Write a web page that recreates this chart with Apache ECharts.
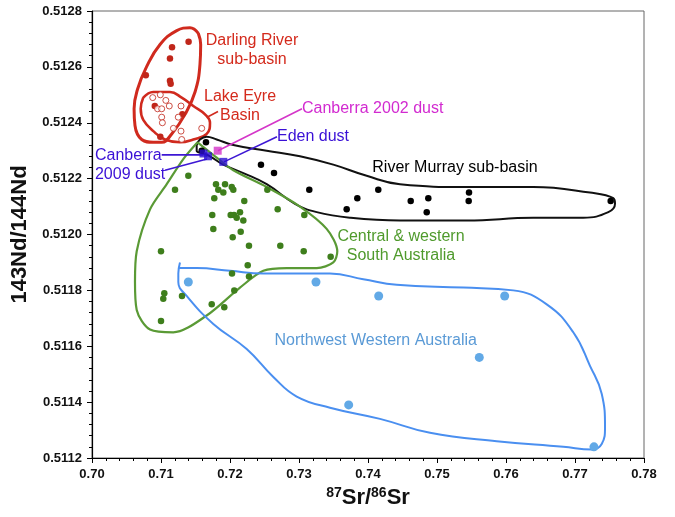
<!DOCTYPE html>
<html><head><meta charset="utf-8">
<script src="https://cdn.jsdelivr.net/npm/echarts@6/dist/echarts.min.js"></script>
<style>html,body{margin:0;padding:0;background:#fff}#c{width:675px;height:517px}</style>
</head><body><div id="c"></div>
<script>
// ---- axis ranges ----
const xRange = [0.70, 0.78, 0.01];
const yRange = [0.5112, 0.5128, 0.0002];

// ---- data points [87Sr/86Sr, 143Nd/144Nd] ----
const darlingPts = [[0.7140,0.51269],[0.7116,0.51267],[0.7113,0.51263],[0.7078,0.51257],[0.7113,0.51255],[0.7114,0.51254],[0.7091,0.51246],[0.7131,0.51243],[0.7099,0.51235]];
const lakeEyrePts = [[0.7088,0.51249],[0.7099,0.51250],[0.7107,0.51248],[0.7112,0.51246],[0.7095,0.51245],[0.7101,0.51245],[0.7101,0.51242],[0.7102,0.51240],[0.7129,0.51246],[0.7125,0.51242],[0.7118,0.51238],[0.7129,0.51237],[0.7130,0.51234],[0.7159,0.51238]];
const murrayPts = [[0.71652,0.51233],[0.71590,0.51230],[0.72449,0.51225],[0.72638,0.51222],[0.73149,0.51216],[0.73691,0.51209],[0.73845,0.51213],[0.74149,0.51216],[0.74619,0.51212],[0.74874,0.51213],[0.74851,0.51208],[0.75464,0.51215],[0.75459,0.51212],[0.77517,0.51212]];
const centralPts = [[0.71396,0.51221],[0.71203,0.51216],[0.71797,0.51218],[0.71928,0.51218],[0.72025,0.51217],[0.71830,0.51216],[0.71903,0.51215],[0.72048,0.51216],[0.72541,0.51216],[0.71772,0.51213],[0.72207,0.51212],[0.72691,0.51209],[0.73077,0.51207],[0.71743,0.51207],[0.72010,0.51207],[0.72058,0.51207],[0.72145,0.51208],[0.72097,0.51206],[0.72193,0.51205],[0.71758,0.51202],[0.72155,0.51201],[0.72039,0.51199],[0.71000,0.51194],[0.72275,0.51196],[0.72729,0.51196],[0.73068,0.51194],[0.73459,0.51192],[0.72257,0.51189],[0.72029,0.51186],[0.72275,0.51185],[0.71048,0.51179],[0.71033,0.51177],[0.71304,0.51178],[0.72062,0.51180],[0.71735,0.51175],[0.71917,0.51174],[0.71000,0.51169]];
const nwwaPts = [[0.71396,0.51183],[0.73246,0.51183],[0.74155,0.51178],[0.75981,0.51178],[0.75613,0.51156],[0.73720,0.51139],[0.77275,0.51124]];
const canberra2002 = [[0.71822,0.51230]];
const edenDust = [[0.71903,0.51226]];
const canberra2009 = [[0.71616,0.51229],[0.71681,0.51228]];

// ---- hand-drawn field outlines ----
const darlingOutline = [[0.71541,0.51272],[0.71420,0.51274],[0.71228,0.51273],[0.70986,0.51268],[0.70790,0.51260],[0.70660,0.51252],[0.70610,0.51245],[0.70623,0.51239],[0.70720,0.51234],[0.70888,0.51233],[0.71010,0.51233],[0.71155,0.51236],[0.71348,0.51243],[0.71493,0.51251],[0.71565,0.51261],[0.71575,0.51268],[0.71541,0.51272]];
const lakeEyreOutline = [[0.70743,0.51249],[0.70706,0.51245],[0.70743,0.51241],[0.70888,0.51237],[0.71058,0.51234],[0.71275,0.51233],[0.71468,0.51234],[0.71662,0.51236],[0.71710,0.51240],[0.71638,0.51243],[0.71468,0.51246],[0.71300,0.51249],[0.71130,0.51251],[0.70888,0.51251],[0.70743,0.51249]];
const murrayOutline = [[0.71517,0.51232],[0.71565,0.51234],[0.71662,0.51235],[0.71807,0.51234],[0.72048,0.51232],[0.72532,0.51230],[0.73014,0.51228],[0.73497,0.51225],[0.73981,0.51221],[0.74464,0.51218],[0.75430,0.51217],[0.76396,0.51217],[0.77217,0.51215],[0.77555,0.51213],[0.77580,0.51211],[0.77483,0.51208],[0.77120,0.51206],[0.76396,0.51206],[0.75430,0.51205],[0.74464,0.51205],[0.73739,0.51206],[0.73257,0.51208],[0.72942,0.51211],[0.72532,0.51218],[0.72193,0.51222],[0.71903,0.51225],[0.71710,0.51228],[0.71613,0.51229],[0.71517,0.51230],[0.71517,0.51232]];
const centralOutline = [[0.71530,0.51233],[0.71783,0.51228],[0.72048,0.51223],[0.72532,0.51217],[0.73014,0.51210],[0.73401,0.51202],[0.73555,0.51194],[0.73497,0.51190],[0.73257,0.51188],[0.72822,0.51188],[0.72483,0.51187],[0.72145,0.51181],[0.71662,0.51171],[0.71178,0.51165],[0.70841,0.51166],[0.70648,0.51173],[0.70623,0.51183],[0.70648,0.51194],[0.70841,0.51209],[0.71083,0.51218],[0.71323,0.51227],[0.71530,0.51233]];
const nwwaOutline = [[0.71265,0.51188],[0.71517,0.51188],[0.72000,0.51187],[0.72483,0.51186],[0.73449,0.51186],[0.73932,0.51184],[0.74416,0.51182],[0.75381,0.51181],[0.76106,0.51180],[0.76590,0.51175],[0.76975,0.51165],[0.77217,0.51153],[0.77387,0.51143],[0.77435,0.51131],[0.77387,0.51125],[0.77242,0.51123],[0.76830,0.51124],[0.75865,0.51126],[0.74899,0.51129],[0.74174,0.51134],[0.73449,0.51138],[0.72967,0.51142],[0.72628,0.51149],[0.72242,0.51159],[0.71758,0.51168],[0.71372,0.51178],[0.71251,0.51183],[0.71251,0.51186],[0.71275,0.51190]];

// ---- leader lines ----
const c2002Leader = [[0.71826,0.51230],[0.73043,0.51245]];
const edenLeader = [[0.71913,0.51226],[0.72681,0.51235]];
const c2009LeaderA = [[0.71010,0.512285],[0.71616,0.512285]];
const c2009LeaderB = [[0.71058,0.51223],[0.71667,0.51227]];
const lakeEyreLeader = [[0.71667,0.51242],[0.71826,0.51244]];

// ---- text labels ----
const labelTexts = ['Darling River\nsub-basin','Lake Eyre\nBasin','Canberra 2002 dust','Eden dust','Canberra\n2009 dust','River Murray sub-basin','Central & western\nSouth Australia','Northwest Western Australia'];
const labelPos = [[0.72319,0.51266],[0.72145,0.51246],[0.73043,0.51245],[0.72681,0.51235],[0.70043,0.51225],[0.75261,0.51224],[0.74478,0.51196],[0.74112,0.51162]];
const labelColors = ['#d42a1c','#d42a1c','#d22ad0','#3a10d6','#3a10d6','#000000','#4f9a2c','#5a9ad6'];
const labelAligns = ['center','center','left','left','left','center','center','center'];

const FONT = '"Liberation Sans", Arial, Helvetica, sans-serif';

function outline(data, color, width, smooth) {
  return {type:'line', data, smooth: smooth === undefined ? 0.45 : smooth, symbol:'none', silent:true, z:2,
    lineStyle:{color, width}, animation:false};
}
function leader(data, color) {
  return {type:'line', data, smooth:false, symbol:'none', silent:true, z:3, lineStyle:{color, width:1.6}, animation:false};
}
function dots(data, color, size, extra) {
  return Object.assign({type:'scatter', data, symbol:'circle', symbolSize:size, z:5, silent:true, animation:false,
    itemStyle:{color, opacity:1}}, extra || {});
}

const labelData = labelTexts.map((t, i) => ({
  value: labelPos[i],
  label: {formatter: t, color: labelColors[i], align: labelAligns[i]}
}));

const option = {
  backgroundColor:'#fff',
  animation:false,
  grid:{left:92, right:31, top:11, bottom:59, show:true, borderColor:'#666', borderWidth:1, outerBoundsMode:'none'},
  xAxis:{
    type:'value', min:xRange[0], max:xRange[1], interval:xRange[2],
    name:'{s|87}{b|Sr/}{s|86}{b|Sr}', nameLocation:'middle', nameGap:28,
    nameTextStyle:{rich:{
      b:{fontSize:22, fontWeight:'bold', fontFamily:FONT, color:'#111', lineHeight:24},
      s:{fontSize:14, fontWeight:'bold', fontFamily:FONT, color:'#111', lineHeight:14, verticalAlign:'top'}
    }},
    axisLine:{show:true, onZero:false, lineStyle:{color:'#000', width:1.2}},
    axisTick:{show:true, length:5, lineStyle:{color:'#000'}},
    minorTick:{show:true, splitNumber:5, length:3, lineStyle:{color:'#000'}},
    splitLine:{show:false}, minorSplitLine:{show:false},
    axisLabel:{formatter:v => v.toFixed(2), fontSize:13, fontWeight:'bold', fontFamily:FONT, color:'#111', margin:10}
  },
  yAxis:{
    type:'value', min:yRange[0], max:yRange[1], interval:yRange[2],
    name:'143Nd/144Nd', nameLocation:'middle', nameGap:58, nameRotate:90,
    nameTextStyle:{fontSize:22, fontWeight:'bold', fontFamily:FONT, color:'#111'},
    axisLine:{show:true, onZero:false, lineStyle:{color:'#000', width:1.2}},
    axisTick:{show:true, length:5, lineStyle:{color:'#000'}},
    minorTick:{show:true, splitNumber:5, length:3, lineStyle:{color:'#000'}},
    splitLine:{show:false}, minorSplitLine:{show:false},
    axisLabel:{formatter:v => v.toFixed(4), fontSize:13, fontWeight:'bold', fontFamily:FONT, color:'#111', margin:10}
  },
  series:[
    outline(darlingOutline, '#d02a1e', 3),
    outline(lakeEyreOutline, '#d02a1e', 2.6),
    leader(lakeEyreLeader, '#d02a1e'),
    outline(murrayOutline, '#111', 2),
    outline(centralOutline, '#5a9a35', 2.2, 0.3),
    outline(nwwaOutline, '#4a8ff0', 2),
    leader(c2002Leader, '#d435c8'),
    leader(edenLeader, '#3d17d4'),
    leader(c2009LeaderA, '#3d17d4'),
    leader(c2009LeaderB, '#3d17d4'),
    dots(darlingPts, '#c0261a', 6.5),
    dots(lakeEyrePts, '#ffffff', 6, {itemStyle:{color:'#fff', borderColor:'#c0261a', borderWidth:1}}),
    dots(murrayPts, '#000', 6.5),
    dots(centralPts, '#3e7e1c', 6.5),
    dots(nwwaPts, '#62a9e6', 9),
    {type:'scatter', data:canberra2002, symbol:'rect', symbolSize:8, z:6, silent:true, itemStyle:{color:'#d435c8'}},
    {type:'scatter', data:edenDust, symbol:'rect', symbolSize:8, z:6, silent:true, itemStyle:{color:'#2a0fd0'}},
    {type:'scatter', data:canberra2009, symbol:'rect', symbolSize:8, z:6, silent:true, itemStyle:{color:'#2a0fd0'}},
    {type:'scatter', data:labelData, symbolSize:1, z:10, silent:true, itemStyle:{color:'rgba(0,0,0,0)'},
      label:{show:true, position:'inside', fontSize:16, fontFamily:FONT, lineHeight:19, verticalAlign:'middle',
        textBorderWidth:0, textBorderColor:'transparent', textShadowBlur:0, opacity:1}}
  ]
};

const chart = echarts.init(document.getElementById('c'), null, {renderer:'canvas'});
chart.setOption(option);
</script>
</body></html>
